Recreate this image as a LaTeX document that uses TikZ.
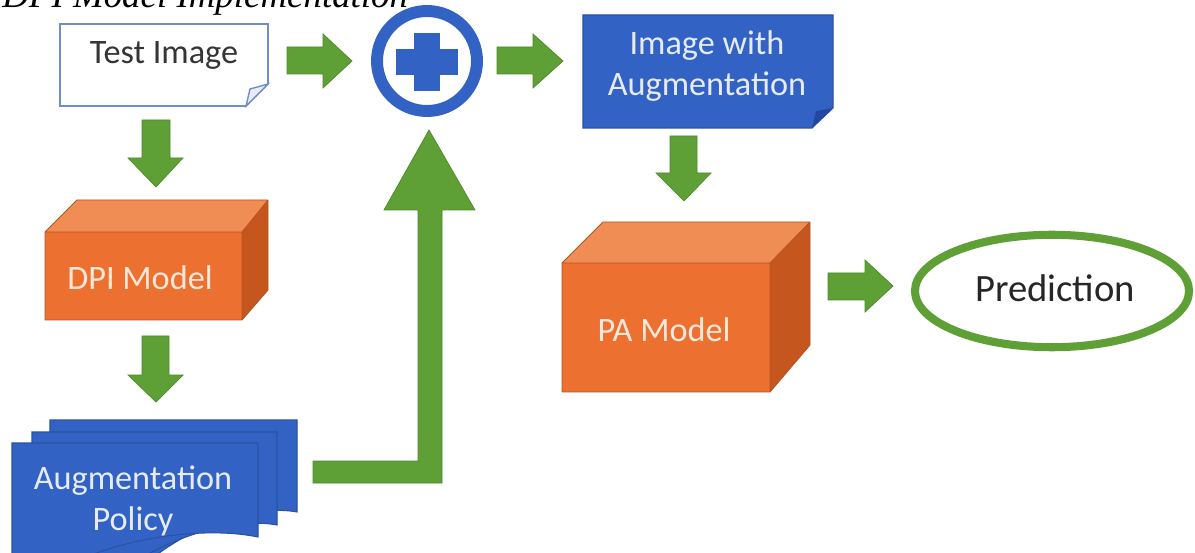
\documentclass[tikz,border=0pt]{standalone}
\usepackage{fontspec}
\setmainfont{Carlito}
\newfontfamily\capfont{Liberation Serif}
\usetikzlibrary{shapes.geometric}

\definecolor{flowgreen}{HTML}{5FA036}
\definecolor{flowgreenedge}{HTML}{4E8A2A}
\definecolor{docblue}{HTML}{3263C4}
\definecolor{docblueedge}{HTML}{2A52A3}
\definecolor{docbluefold}{HTML}{2448A0}
\definecolor{boxfront}{HTML}{EC7030}
\definecolor{boxtop}{HTML}{F08D55}
\definecolor{boxside}{HTML}{C4561E}
\definecolor{boxedge}{HTML}{B8531F}
\definecolor{paletext}{HTML}{E6EAF2}
\definecolor{orangetext}{HTML}{FBE8DA}
\definecolor{inktext}{HTML}{353535}
\definecolor{framegray}{HTML}{6F8FC4}

\tikzset{
  blockarrow/.style={fill=flowgreen, draw=flowgreenedge, line width=0.4pt, line join=miter},
  label/.style={font=\fontsize{19.5}{23}\selectfont, align=center, inner sep=0pt},
  darklabel/.style={label, text=inktext},
  bluelabel/.style={label, text=paletext},
  orangelabel/.style={label, text=orangetext},
  sheet/.style={fill=docblue, draw=docblueedge, line width=0.6pt},
}

\begin{document}
\begin{tikzpicture}[x=0.02cm, y=-0.02cm]
\useasboundingbox (0,0) rectangle (1195,553);
\fill[white] (0,0) rectangle (1195,553);

% caption, partly above the page edge
\node[anchor=base west, inner sep=0pt, font=\capfont\itshape\fontsize{21}{24}\selectfont] (cap) at (2,8) {DPI Model Implementation};

% ---- Test Image (note with folded corner)
\draw[framegray, line width=1pt, fill=white] (60,24) -- (268,24) -- (268,84) -- (246,106) -- (60,106) -- cycle;
\draw[framegray, line width=0.8pt, fill=blue!8] (268,84) -- (246,106) -- (250,89) -- cycle;
\node[darklabel] (test) at (164,55) {Test Image};

% ---- plus junction
\draw[docblue, line width=6.8pt] (427,61) circle[radius=50];
\node[circle, inner sep=0pt, minimum size=63pt] (plus) at (427,61) {};
\fill[docblue] (414,33) rectangle (440,91);
\fill[docblue] (396,49) rectangle (458,75);

% ---- Image with Augmentation
\draw[sheet] (583,15) -- (833,15) -- (833,108) -- (812,128) -- (583,128) -- cycle;
\fill[docbluefold] (833,108) -- (812,128) -- (816,111) -- cycle;
\node[bluelabel] (aug) at (707,66) {Image with\\Augmentation};

% ---- DPI Model (3D block)
\fill[boxtop] (45,232) -- (77,200) -- (268,200) -- (242,232) -- cycle;
\fill[boxside] (242,232) -- (268,200) -- (268,290) -- (242,320) -- cycle;
\fill[boxfront] (45,232) rectangle (242,320);
\draw[boxedge, line width=0.5pt, line join=round] (45,232) -- (77,200) -- (268,200) -- (268,290) -- (242,320) -- (45,320) -- cycle (45,232) -- (242,232) -- (268,200) (242,232) -- (242,320);
\node[orangelabel] (dpi) at (140,278) {DPI Model};

% ---- PA Model (3D block)
\fill[boxtop] (562,263) -- (603,222) -- (810,222) -- (770,263) -- cycle;
\fill[boxside] (770,263) -- (810,222) -- (810,345) -- (770,392) -- cycle;
\fill[boxfront] (562,263) rectangle (770,392);
\draw[boxedge, line width=0.5pt, line join=round] (562,263) -- (603,222) -- (810,222) -- (810,345) -- (770,392) -- (562,392) -- cycle (562,263) -- (770,263) -- (810,222) (770,263) -- (770,392);
\node[orangelabel] (pa) at (664,330) {PA Model};

% ---- Augmentation Policy (stack of documents)
\draw[sheet] (50,420) -- (297,420) -- (297,512) .. controls (260,505) and (200,520) .. (150,560) -- (50,560) -- cycle;
\draw[sheet] (32,432) -- (277,432) -- (277,525) .. controls (240,518) and (180,532) .. (130,565) -- (32,565) -- cycle;
\draw[sheet] (12,443) -- (258,443) -- (258,537) .. controls (200,525) and (110,540) .. (60,570) -- (12,570) -- cycle;
\node[bluelabel] (policy) at (133,501) {Augmentation\\Policy};

% ---- Prediction
\node[draw=flowgreen, line width=4.6pt, ellipse, minimum width=156pt, minimum height=64pt, inner sep=0pt] (pred) at (1052,291) {};
\node[label, text=black!85, font=\fontsize{22}{26}\selectfont] (predtext) at (1055,288) {Prediction};

% ---- block arrows between the steps
% Test Image -> plus
\draw[blockarrow] (287,47) -- (323,47) -- (323,34) -- (352,61) -- (323,88) -- (323,74) -- (287,74) -- cycle;
% plus -> Image with Augmentation
\draw[blockarrow] (497,47) -- (533,47) -- (533,34) -- (563,61) -- (533,88) -- (533,74) -- (497,74) -- cycle;
% Test Image -> DPI Model
\draw[blockarrow] (142,120) -- (170,120) -- (170,158) -- (183,158) -- (156,187) -- (128,158) -- (142,158) -- cycle;
% DPI Model -> Augmentation Policy
\draw[blockarrow] (142,336) -- (169,336) -- (169,375) -- (183,375) -- (156,402) -- (128,375) -- (142,375) -- cycle;
% Image with Augmentation -> PA Model
\draw[blockarrow] (670,136) -- (697,136) -- (697,173) -- (711,173) -- (684,201) -- (656,173) -- (670,173) -- cycle;
% PA Model -> Prediction
\draw[blockarrow] (828,273) -- (865,273) -- (865,260) -- (893,286) -- (865,312) -- (865,300) -- (828,300) -- cycle;
% Augmentation Policy -> plus (L-shaped)
\draw[blockarrow] (313,461) -- (418,461) -- (418,210) -- (384,210) -- (429,130) -- (475,210) -- (442,210) -- (442,483) -- (313,483) -- cycle;
\end{tikzpicture}
\end{document}
